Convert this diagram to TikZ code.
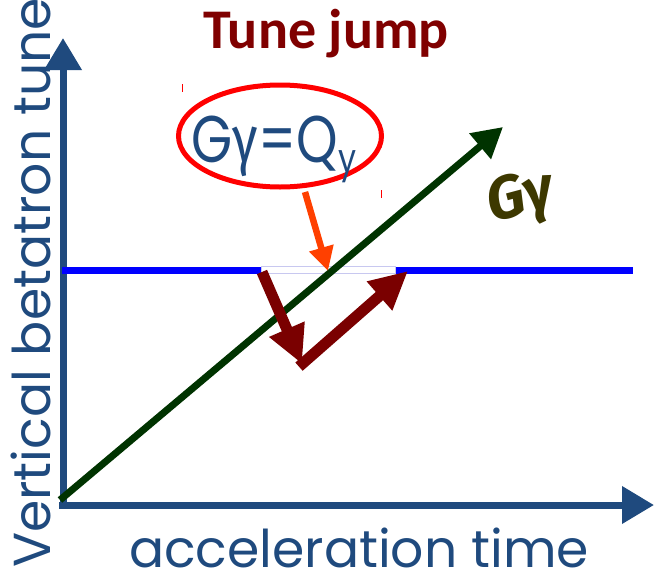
\documentclass[tikz,border=0pt]{standalone}
\usepackage{fontspec}
\setmainfont{Poppins}
\newfontfamily\titlefont{Carlito}
\newfontfamily\grkfont{Fira Sans}
\usetikzlibrary{arrows.meta,shapes.geometric}
\definecolor{axisblue}{HTML}{1F4A7E}
\definecolor{gline}{HTML}{003300}
\definecolor{maroonA}{HTML}{7A0000}
\definecolor{titlered}{HTML}{800000}
\definecolor{orangeA}{HTML}{FF4000}
\definecolor{olive}{HTML}{3D3800}
\definecolor{lav}{HTML}{C8C8F0}
\tikzset{
  axis/.style={draw=axisblue, line width=7pt, -{Triangle[length=32pt,width=36pt]}},
  gammaline/.style={draw=gline, line width=7pt, -{Triangle[length=30pt,width=32pt]}},
  jump/.style={draw=maroonA, line width=11pt, -{Triangle[length=38pt,width=36pt]}},
  pointer/.style={draw=orangeA, line width=6.5pt, -{Triangle[length=24pt,width=24pt]}},
  label/.style={text=axisblue, inner sep=0pt},
}
\begin{document}
\begin{tikzpicture}[x=1pt,y=-1pt]
\useasboundingbox (0,0) rectangle (655,573);
% coordinates
\coordinate (O) at (63,505);
\coordinate (ytip) at (63,38);
\coordinate (xtip) at (654,505);
\coordinate (gtip) at (503,127);
\coordinate (gstart) at (60,500);
\coordinate (bl) at (62,270);
\coordinate (br) at (633,270);
\coordinate (gapL) at (262,272);
\coordinate (gapR) at (408,271);
\coordinate (corner) at (302,364);
\coordinate (hit) at (328,271);
\coordinate (ostart) at (305,192);
% axes
\draw[axis] (63,508) -- (ytip);
\draw[axis] (59,505) -- (xtip);
% blue tune line
\draw[blue, line width=7pt] (bl) -- (br);
\node[draw=lav, fill=white, line width=0.8pt, minimum width=134pt, minimum height=7pt, inner sep=0pt] (gap) at (328,270) {};
% G gamma line
\draw[gammaline] (gstart) -- (gtip);
% jump arrows
\draw[jump] (gapL) -- (corner);
\draw[jump, shorten <=-4pt] (corner) -- (gapR);
% resonance ellipse
\node[ellipse, draw=red, line width=5pt, minimum width=203pt, minimum height=102pt, inner sep=0pt] (res) at (280,136) {};
\node[text=axisblue, anchor=base] (restext) at (274,162) {\scalebox{0.8}[1]{\fontsize{66}{68}\selectfont G{\grkfont γ}=Q\raisebox{-10pt}{\fontsize{40}{42}\selectfont y}}};
\draw[pointer] (ostart) -- (hit);
% small red ticks
\draw[red, line width=1pt] (182,84) -- (182,92);
\draw[red, line width=1pt] (381,190) -- (381,198);
% texts
\node[text=titlered, anchor=base] (title) at (326,48) {\titlefont\bfseries\fontsize{56}{60}\selectfont Tune jump};
\node[text=olive, anchor=center, rotate=15, inner sep=0pt] (glabel) at (521,200) {\grkfont\bfseries\itshape\fontsize{60}{60}\selectfont Gγ};
\node[label, anchor=base, rotate=90] (ylabel) at (50,283) {\fontsize{52}{56}\selectfont Vertical betatron tune};
\node[label, anchor=base] (xlabel) at (359,567) {\scalebox{1.0}[1]{\fontsize{52}{54}\selectfont acceleration time}};
\end{tikzpicture}
\end{document}
